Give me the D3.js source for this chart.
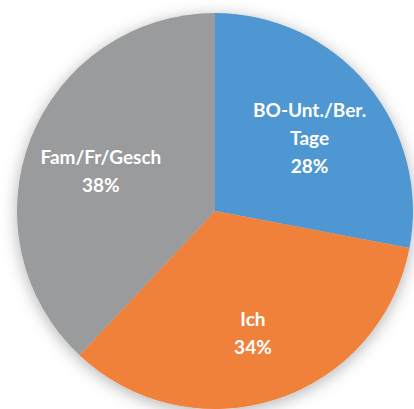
<!DOCTYPE html>
<html>
<head>
<meta charset="utf-8">
<script src="https://cdn.jsdelivr.net/npm/d3@7"></script>
<style>
  html, body { margin: 0; padding: 0; background: #ffffff; }
  svg { display: block; }
</style>
</head>
<body>
<div id="chart"></div>
<script>
// Time share by area
const categories = ["BO-Unt./Ber. Tage", "Ich", "Fam/Fr/Gesch"];
const labelLines = [["BO-Unt./Ber.", "Tage"], ["Ich"], ["Fam/Fr/Gesch"]];
const values = [28, 34, 38];
const colors = ["#5097d3", "#f0813a", "#999b9c"];

const width = 414, height = 409;
const cx = 215, cy = 211, radius = 198;

const svg = d3.select("#chart").append("svg")
  .attr("width", width).attr("height", height);

const defs = svg.append("defs");
const shadow = defs.append("filter").attr("id", "pieShadow")
  .attr("x", "-20%").attr("y", "-20%").attr("width", "140%").attr("height", "140%");
shadow.append("feDropShadow")
  .attr("dx", 0).attr("dy", 3)
  .attr("stdDeviation", 8)
  .attr("flood-color", "#000").attr("flood-opacity", 0.3);

const pie = d3.pie().sort(null).value(d => d)(values);
const arc = d3.arc().innerRadius(0).outerRadius(radius);
const labelArc = d3.arc().innerRadius(radius * 0.62).outerRadius(radius * 0.62);

const g = svg.append("g").attr("transform", `translate(${cx},${cy})`);

g.append("g").attr("filter", "url(#pieShadow)")
  .selectAll("path").data(pie).join("path")
  .attr("d", arc)
  .attr("fill", (d, i) => colors[i]);

const lineH = 28;
const labels = g.selectAll("text.lbl").data(pie).join("text")
  .attr("class", "lbl")
  .attr("text-anchor", "middle")
  .attr("fill", "#ffffff")
  .style("font-family", "Lato, 'Open Sans', sans-serif")
  .style("font-weight", "bold")
  .style("font-size", "19px")
  .attr("transform", d => `translate(${labelArc.centroid(d)})`);

labels.each(function(d, i) {
  const lines = labelLines[i].concat([d.value + "%"]);
  const t = d3.select(this);
  const y0 = -((lines.length - 1) * lineH) / 2 + 12;
  lines.forEach((ln, k) => {
    t.append("tspan").attr("x", 0).attr("y", y0 + k * lineH).text(ln);
  });
});
</script>
</body>
</html>
